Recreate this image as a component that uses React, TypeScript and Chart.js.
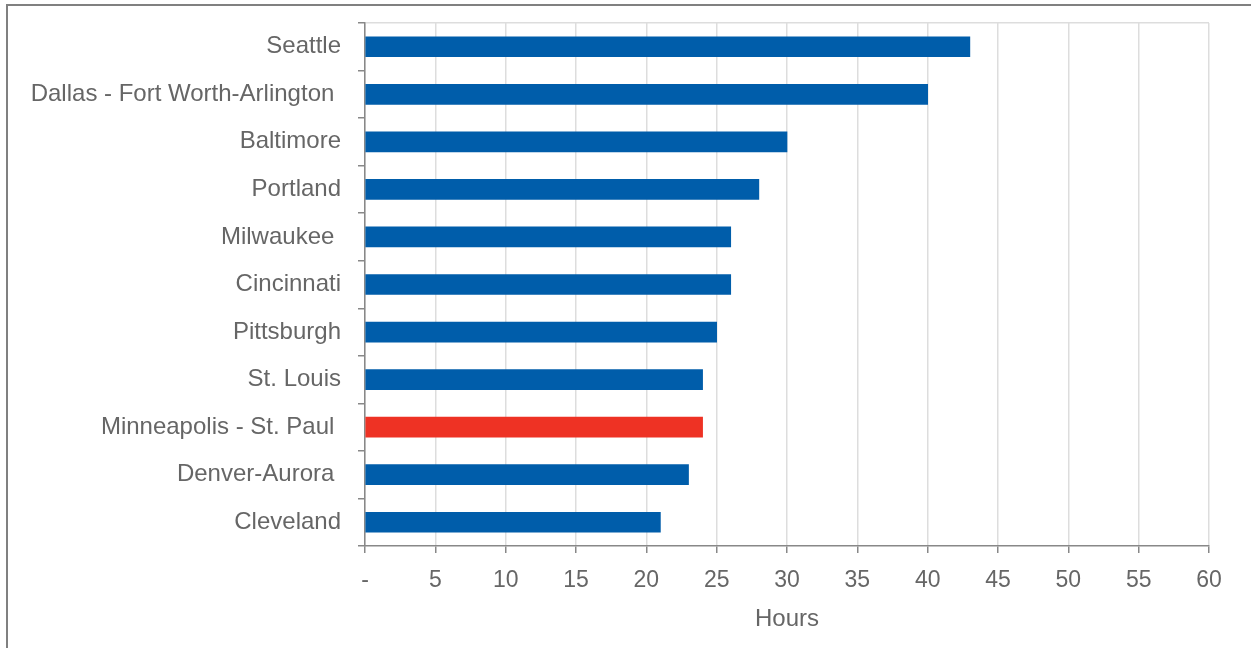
import React, { useEffect, useRef } from "react";
import { Chart, registerables } from "chart.js";

Chart.register(...registerables);

const cities = [
  "Seattle",
  "Dallas - Fort Worth-Arlington ",
  "Baltimore",
  "Portland",
  "Milwaukee ",
  "Cincinnati",
  "Pittsburgh",
  "St. Louis",
  "Minneapolis - St. Paul ",
  "Denver-Aurora ",
  "Cleveland",
];
const hours = [43, 40, 30, 28, 26, 26, 25, 24, 24, 23, 21];
const highlightCity = "Minneapolis - St. Paul ";
const xMin = 0;
const xMax = 60;
const xStep = 5;
const axisTitle = "Hours";

const BLUE = "#005DAA";
const RED = "#EE3224";
const TEXT = "#666666";
const FONT = "'Liberation Sans', Arial, Helvetica, sans-serif";

export default function App() {
  const ref = useRef<HTMLCanvasElement | null>(null);

  useEffect(() => {
    if (!ref.current) return;
    const chart = new Chart(ref.current, {
      type: "bar",
      data: {
        labels: cities,
        datasets: [
          {
            data: hours,
            backgroundColor: cities.map((c) => (c === highlightCity ? RED : BLUE)),
            borderWidth: 0,
            barThickness: 20,
          },
        ],
      },
      options: {
        indexAxis: "y",
        animation: false,
        responsive: false,
        maintainAspectRatio: false,
        layout: { padding: { top: 23, right: 42, left: 0, bottom: 0 } },
        plugins: {
          legend: { display: false },
          tooltip: { enabled: false },
        },
        scales: {
          x: {
            min: xMin,
            max: xMax,
            ticks: {
              stepSize: xStep,
              color: TEXT,
              font: { family: FONT, size: 23 },
              padding: 14,
              callback: (v: any) => (Number(v) === 0 ? "-" : String(v)),
            },
            grid: {
              color: "#dddddd",
              lineWidth: 1.5,
              tickColor: "#888888",
              tickLength: 7,
            },
            border: { color: "#888888", width: 1.5 },
            title: {
              display: true,
              text: axisTitle,
              color: TEXT,
              font: { family: FONT, size: 24 },
              padding: { top: 8, bottom: 14 },
            },
            afterFit: (scale: any) => {
              scale.height = 102;
            },
          },
          y: {
            ticks: {
              color: TEXT,
              font: { family: FONT, size: 24 },
              padding: 17,
            },
            grid: {
              offset: true,
              color: (ctx: any) => (ctx.index === 0 ? "#dddddd" : "rgba(0,0,0,0)"),
              lineWidth: 1.5,
              tickColor: "#888888",
              tickLength: 7,
            },
            border: { color: "#888888", width: 1.5 },
            afterFit: (scale: any) => {
              scale.width = 365;
              scale.paddingTop = 0;
              scale.paddingBottom = 0;
            },
          },
        },
      },
    });
    return () => chart.destroy();
  }, []);

  return (
    <div
      style={{
        position: "absolute",
        left: 0,
        top: 0,
        width: 1251,
        height: 648,
        background: "#fff",
        overflow: "hidden",
      }}
    >
      <div
        style={{
          position: "absolute",
          left: 6,
          top: 4,
          width: 1251,
          height: 648,
          borderLeft: "2px solid #808080",
          borderTop: "2px solid #808080",
          boxSizing: "border-box",
        }}
      />
      <canvas
        ref={ref}
        width={1251}
        height={648}
        style={{ position: "absolute", left: 0, top: 0, width: 1251, height: 648 }}
      />
    </div>
  );
}
